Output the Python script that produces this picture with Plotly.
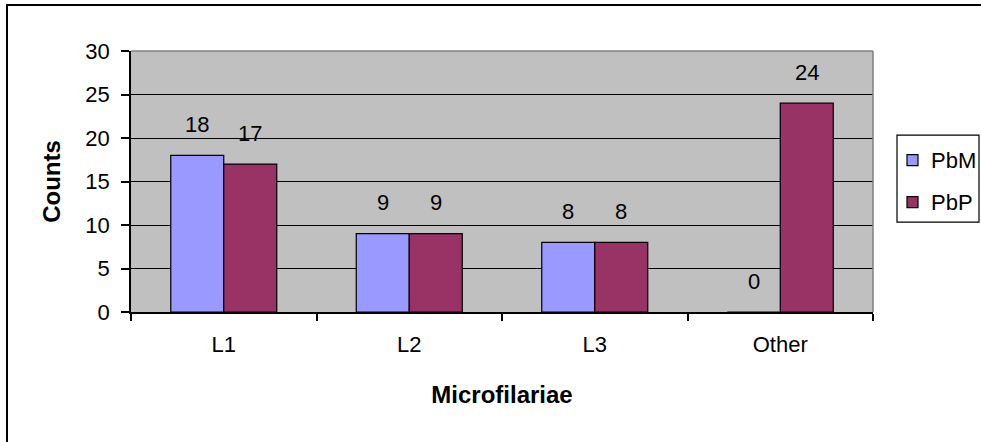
import plotly.graph_objects as go

categories = ["L1", "L2", "L3", "Other"]
series_names = ["PbM", "PbP"]
pbm_values = [18, 9, 8, 0]
pbp_values = [17, 9, 8, 24]
y_ticks = [0, 5, 10, 15, 20, 25, 30]

colors = ["#9999FF", "#993366"]
FONT = "Liberation Sans, Arial, sans-serif"
FS = 22
FS_TITLE = 24
BARGAP = 1.5 / 3.5

# plot-area geometry (pixels)
W, H = 981, 442
L, R, T, B = 131, 873, 51, 311.7


def px(x):
    return (x - L) / (R - L)


def py(y):
    return (B - y) / (B - T)


fig = go.Figure()
all_vals = [pbm_values, pbp_values]
for k, (name, vals) in enumerate(zip(series_names, all_vals)):
    fig.add_trace(go.Bar(
        x=categories, y=vals, name=name,
        marker=dict(color=colors[k], line=dict(color="black", width=1.2)),
        showlegend=False,
    ))

# data labels above bars
bw = (1 - BARGAP) / len(series_names)
for k, vals in enumerate(all_vals):
    for i, v in enumerate(vals):
        fig.add_annotation(
            x=i + (k - (len(series_names) - 1) / 2) * bw, y=v,
            text=str(v), showarrow=False, yanchor="middle", yshift=31,
            font=dict(family=FONT, size=FS, color="black"),
        )

fig.update_layout(
    width=W, height=H,
    margin=dict(l=L, r=W - R, t=T, b=H - B),
    paper_bgcolor="white", plot_bgcolor="#C0C0C0",
    barmode="group", bargap=BARGAP, bargroupgap=0,
    font=dict(family=FONT, size=FS, color="black"),
    showlegend=False,
    xaxis=dict(
        type="category", showgrid=False, showline=True, linecolor="black", linewidth=1.5,
        ticks="outside", tickson="boundaries", ticklen=7, tickcolor="black", tickwidth=1.5,
        ticklabelstandoff=12,
        title=dict(text="<b>Microfilariae</b>", standoff=30,
                   font=dict(family=FONT, size=FS_TITLE, color="black")),
    ),
    yaxis=dict(
        range=[0, 30], tickvals=y_ticks, showgrid=True, gridcolor="black", gridwidth=1.2,
        showline=True, linecolor="black", linewidth=1.5, zeroline=False,
        ticks="outside", ticklen=8, tickcolor="black", tickwidth=1.5,
        ticklabelstandoff=7,
        title=dict(text="<b>Counts</b>", standoff=18,
                   font=dict(family=FONT, size=FS_TITLE, color="black")),
    ),
)

# plot area border (top and right, gray)
fig.add_shape(type="line", xref="paper", yref="paper", x0=0, x1=1, y0=1, y1=1,
              line=dict(color="#808080", width=1.5), layer="above")
fig.add_shape(type="line", xref="paper", yref="paper", x0=1, x1=1, y0=0, y1=1,
              line=dict(color="#808080", width=1.5), layer="above")
# chart outer frame
fig.add_shape(type="rect", xref="paper", yref="paper", x0=px(7), x1=px(W + 40), y0=py(H + 40), y1=py(5),
              line=dict(color="black", width=2), layer="below")

# legend (drawn manually to match the original layout)
fig.add_shape(type="rect", xref="paper", yref="paper", x0=px(897), x1=px(979), y0=py(222), y1=py(135),
              line=dict(color="black", width=1.2), fillcolor="white", layer="above")
row_y = [160, 202]
for k, name in enumerate(series_names):
    cy = row_y[k]
    fig.add_shape(type="rect", xref="paper", yref="paper",
                  x0=px(907), x1=px(918), y0=py(cy + 5.5), y1=py(cy - 5.5),
                  line=dict(color="black", width=1.2), fillcolor=colors[k], layer="above")
    fig.add_annotation(xref="paper", yref="paper", x=px(929), y=py(cy), text=name,
                       showarrow=False, xanchor="left", yanchor="middle",
                       font=dict(family=FONT, size=FS, color="black"))

fig.write_html("out.html", config={"displayModeBar": False},
               post_script="document.body.style.margin='0';")
